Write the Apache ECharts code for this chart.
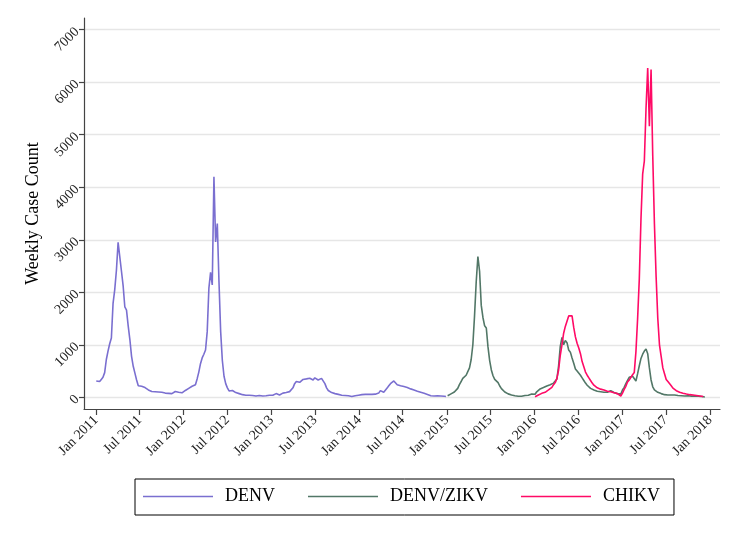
<!DOCTYPE html>
<html><head><meta charset="utf-8">
<script src="https://cdn.jsdelivr.net/npm/echarts@6/dist/echarts.min.js"></script>
<style>html,body{margin:0;padding:0;background:#fff}#c{width:740px;height:538px}</style>
</head><body><div id="c"></div>
<script>
// Weekly case counts
const denvStart = '2011-01-02';
const denv = [
 310,320,300,340,380,470,720,880,1020,1130,
 1790,2050,2420,2950,2920,2400,2120,1720,1660,1360,
 1100,780,590,460,330,220,200,210,190,185,
 160,140,120,110,95,105,90,100,85,95,
 90,80,95,75,80,70,90,110,115,95,
 80,85,100,130,155,170,190,210,225,240,
 350,480,640,750,820,900,1250,2080,2380,2140,
 4200,2960,3310,2200,1250,700,400,260,180,120,
 150,130,100,90,75,70,55,50,45,40,
 35,40,30,35,30,25,30,35,30,25,
 25,30,35,40,45,40,55,70,60,45,
 60,80,95,90,100,108,115,180,260,300,
 295,285,300,340,330,350,345,362,350,330,
 370,345,330,345,360,394,260,180,130,110,
 90,80,70,63,55,45,40,38,35,32,
 30,20,15,25,30,32,40,50,50,45,
 55,55,57,60,55,63,60,70,80,127,
 90,95,130,175,220,260,290,311,317,240,
 225,220,215,205,200,185,170,160,150,140,
 125,115,105,95,85,75,65,55,45,30,
 15,25,30,30,35,25,20,20,15
];
const denvZikvStart = '2015-01-04';
const denvZikv = [
 30,55,65,80,100,115,170,240,300,360,
 345,420,410,560,720,1000,1550,2200,2680,2400,
 1750,1520,1360,1320,960,700,520,410,340,320,
 280,215,165,130,100,80,65,55,45,35,
 30,25,20,25,20,25,35,45,40,55,
 63,60,57,105,130,160,170,185,200,215,
 225,240,255,270,300,350,600,970,1140,1000,
 1080,1040,900,860,750,650,540,500,480,420,
 370,320,270,230,195,170,150,140,125,115,
 110,105,100,95,90,95,110,125,105,90,
 85,70,50,60,140,190,260,320,380,370,
 400,380,310,450,600,740,820,880,920,830,
 560,330,200,140,115,95,80,70,60,50,
 45,45,40,45,40,45,40,35,35,30,
 30,25,25,28,25,22,25,22,25,20,
 18,15,10,5
];
const chikvStart = '2016-01-03';
const chikv = [
 10,25,45,63,75,85,95,108,140,165,
 190,240,280,360,520,800,1000,1220,1350,1450,
 1550,1540,1550,1330,1150,1030,940,830,680,580,
 480,420,370,320,270,230,200,180,165,155,
 145,140,125,115,110,105,95,85,76,70,
 60,25,80,150,210,290,330,380,430,470,
 870,1500,2250,3400,4250,4500,5500,6270,5160,6240,
 4600,3300,2300,1500,1000,780,560,450,340,300,
 275,220,175,150,125,105,95,85,78,70,
 62,55,50,48,45,40,35,28,25,20,
 15
];
const seriesNames = ['DENV', 'DENV/ZIKV', 'CHIKV'];
const yTicks = [0, 1000, 2000, 3000, 4000, 5000, 6000, 7000];
const xTickDates = ['2011-01-01','2011-07-01','2012-01-01','2012-07-01','2013-01-01','2013-07-01',
 '2014-01-01','2014-07-01','2015-01-01','2015-07-01','2016-01-01','2016-07-01','2017-01-01',
 '2017-07-01','2018-01-01'];
const monthNames = ['Jan','Feb','Mar','Apr','May','Jun','Jul','Aug','Sep','Oct','Nov','Dec'];

const DAY = 86400000;
function toTs(s) { return Date.parse(s + 'T00:00:00Z'); }
function weekly(start, vals) {
  const t0 = toTs(start);
  return vals.map((v, i) => [t0 + i * 7 * DAY, v]);
}
const FONT = 'Liberation Serif';
const chart = echarts.init(document.getElementById('c'), null, {renderer: 'canvas'});
const lineCommon = {type: 'line', showSymbol: false, symbol: 'none', smooth: false};
const xTickTs = xTickDates.map(toTs);
chart.setOption({
  animation: false,
  backgroundColor: '#ffffff',
  textStyle: {fontFamily: FONT},
  grid: {left: 84, right: 20, top: 18, bottom: 129, outerBoundsMode: 'none'},
  legend: {
    left: 135, top: 479,
    padding: [8, 14, 9, 8],
    borderColor: '#000', borderWidth: 1,
    icon: 'rect',
    itemWidth: 70, itemHeight: 1.6, itemGap: 33,
    textStyle: {fontFamily: FONT, fontSize: 18, color: '#000', padding: [0, 0, 0, 7], lineHeight: 19},
    data: seriesNames
  },
  xAxis: {
    type: 'value',
    min: Date.UTC(2010, 10, 12),
    max: Date.UTC(2018, 1, 11),
    axisLine: {onZero: false, lineStyle: {color: '#444', width: 1.2}},
    axisTick: {show: true, length: 6, lineStyle: {color: '#444', width: 1.2}, customValues: xTickTs},
    axisLabel: {
      customValues: xTickTs,
      rotate: 45, margin: 9, fontSize: 14, fontFamily: FONT, color: '#222',
      formatter: function (v) { const d = new Date(v); return monthNames[d.getUTCMonth()] + ' ' + d.getUTCFullYear(); }
    },
    splitLine: {show: false}
  },
  yAxis: {
    type: 'value',
    min: -223, max: 7223,
    name: 'Weekly Case Count',
    nameLocation: 'middle', nameGap: 41, nameRotate: 90,
    nameTextStyle: {fontFamily: FONT, fontSize: 18, color: '#000'},
    axisLine: {show: true, onZero: false, lineStyle: {color: '#444', width: 1.2}},
    axisTick: {show: true, length: 5, lineStyle: {color: '#444', width: 1.2}, customValues: yTicks},
    axisLabel: {customValues: yTicks, rotate: 45, margin: 7, fontSize: 14, fontFamily: FONT, color: '#222',
      formatter: function (v) { return String(v); }},
    splitLine: {show: true, lineStyle: {color: '#e6e6e6', width: 1.3}}
  },
  series: [
    Object.assign({}, lineCommon, {name: seriesNames[0], data: weekly(denvStart, denv), color: '#7a6fd0', lineStyle: {width: 1.6, color: '#7a6fd0'}}),
    Object.assign({}, lineCommon, {name: seriesNames[1], data: weekly(denvZikvStart, denvZikv), color: '#527767', lineStyle: {width: 1.6, color: '#527767'}}),
    Object.assign({}, lineCommon, {name: seriesNames[2], data: weekly(chikvStart, chikv), color: '#ff0a66', lineStyle: {width: 1.6, color: '#ff0a66'}})
  ]
});
</script>
</body></html>
